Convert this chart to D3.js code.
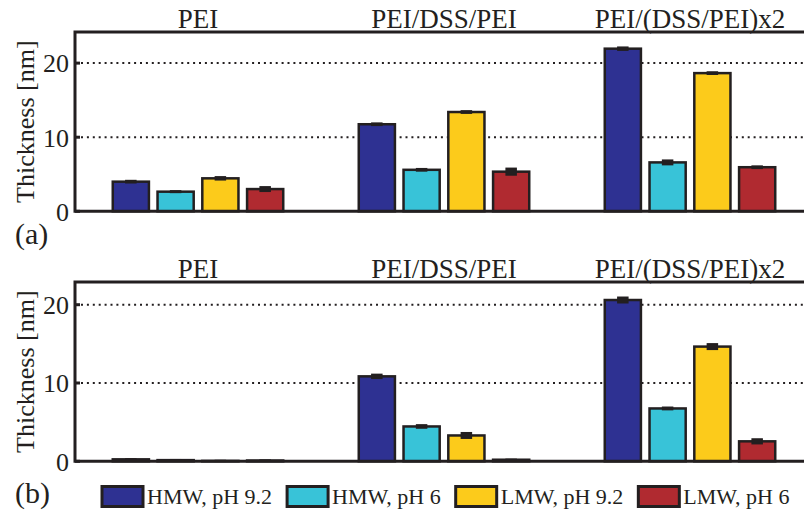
<!DOCTYPE html>
<html>
    <head>
        <meta charset="utf-8">
        <title>Thickness</title>
        <style>
body {
    margin: 0;
    background-color: white;
    font-family: 'Liberation Serif', 'Times New Roman', serif;
}

svg {
    display: block;
    background-color: white;
}

.bar {
    stroke: #231f20;
    stroke-width: 2.5;
}

.err {
    fill: #231f20;
    stroke: #231f20;
    stroke-width: 1.5;
}

.grid {
    stroke: #231f20;
    stroke-width: 2;
    stroke-dasharray: 2, 3.9;
}

.frame {
    stroke: #231f20;
    stroke-width: 3;
    fill: none;
}

.tick-label, .ylabel {
    font-size: 26px;
    fill: #231f20;
}

.panel-label {
    font-size: 30px;
    fill: #231f20;
}

.title {
    font-size: 27px;
    fill: #231f20;
}

.legend-text {
    font-size: 22px;
    fill: #231f20;
}
        </style>
        <script src="https://cdn.jsdelivr.net/npm/d3@7"></script>
    </head>
    <body>
        <script>
var width = 804,
    height = 518;

var groups = ["PEI", "PEI/DSS/PEI", "PEI/(DSS/PEI)x2"];
var series = ["HMW, pH 9.2", "HMW, pH 6", "LMW, pH 9.2", "LMW, pH 6"];
var colors = ["#2e3192", "#38c3d8", "#fccb1b", "#b02a30"];
var yTicks = [0, 10, 20];

// panel (a): rows are series, columns are groups
var valuesA = [
    [4.0, 11.75, 21.95],
    [2.65, 5.6, 6.6],
    [4.45, 13.4, 18.65],
    [3.0, 5.35, 5.95]
];
var errorsA = [
    [0.15, 0.15, 0.2],
    [0.1, 0.15, 0.3],
    [0.2, 0.15, 0.15],
    [0.3, 0.45, 0.15]
];

// panel (b)
var valuesB = [
    [0.25, 10.85, 20.6],
    [0.15, 4.45, 6.75],
    [0.05, 3.3, 14.65],
    [0.1, 0.2, 2.55]
];
var errorsB = [
    [0.05, 0.25, 0.35],
    [0.05, 0.2, 0.15],
    [0.05, 0.35, 0.35],
    [0.05, 0.05, 0.3]
];

var svg = d3.select("body")
    .append("svg")
    .attr("width", width)
    .attr("height", height);

var x = d3.scaleLinear()
    .domain([0.5, 3.5])
    .range([75, 813]);

var barStep = 0.182,
    barWidth = 0.147;

var drawPanel = function (values, errors, top, bottom, yMax, label, labelY) {
    var y = d3.scaleLinear()
        .domain([0, yMax])
        .range([bottom, top]);

    var g = svg.append("g");

    // dotted grid
    g.selectAll(".grid")
        .data(yTicks.filter(function (d) { return d > 0; }))
        .enter().append("line")
        .attr("class", "grid")
        .attr("x1", x(0.5) + 6)
        .attr("x2", width)
        .attr("y1", function (d) { return y(d); })
        .attr("y2", function (d) { return y(d); });

    // bars
    var rows = [];
    values.forEach(function (row, s) {
        row.forEach(function (v, k) {
            rows.push({ s: s, k: k, v: v, e: errors[s][k] });
        });
    });

    var cx = function (d) { return x(d.k + 1 + (d.s - 1.5) * barStep); };
    var halfW = (x(barWidth) - x(0)) / 2;

    g.selectAll(".bar")
        .data(rows)
        .enter().append("rect")
        .attr("class", "bar")
        .attr("x", function (d) { return cx(d) - halfW; })
        .attr("width", halfW * 2)
        .attr("y", function (d) { return y(d.v); })
        .attr("height", function (d) { return y(0) - y(d.v); })
        .attr("fill", function (d) { return colors[d.s]; });

    g.selectAll(".err")
        .data(rows)
        .enter().append("rect")
        .attr("class", "err")
        .attr("x", function (d) { return cx(d) - 5; })
        .attr("width", 10)
        .attr("y", function (d) { return y(d.v + d.e); })
        .attr("height", function (d) { return y(d.v - d.e) - y(d.v + d.e); });

    // frame: left, top and baseline
    g.append("path")
        .attr("class", "frame")
        .attr("d", "M" + width + "," + top + "H" + x(0.5) + "V" + bottom + "H" + width);

    g.selectAll(".tick")
        .data(yTicks)
        .enter().append("line")
        .attr("class", "frame")
        .attr("x1", x(0.5))
        .attr("x2", x(0.5) + 5)
        .attr("y1", function (d) { return y(d); })
        .attr("y2", function (d) { return y(d); });

    g.selectAll(".tick-label")
        .data(yTicks)
        .enter().append("text")
        .attr("class", "tick-label")
        .attr("x", 69)
        .attr("y", function (d) { return y(d); })
        .attr("dy", "0.36em")
        .attr("text-anchor", "end")
        .text(function (d) { return d; });

    g.selectAll(".title")
        .data(groups)
        .enter().append("text")
        .attr("class", "title")
        .attr("x", function (d, i) { return x(i + 1); })
        .attr("y", top - 4)
        .attr("text-anchor", "middle")
        .text(function (d) { return d; });

    g.append("text")
        .attr("class", "ylabel")
        .attr("transform", "translate(34," + ((top + bottom) / 2) + ") rotate(-90)")
        .attr("text-anchor", "middle")
        .text("Thickness [nm]");

    g.append("text")
        .attr("class", "panel-label")
        .attr("x", 15)
        .attr("y", labelY)
        .text(label);
};

drawPanel(valuesA, errorsA, 32, 211.3, 24.2, "(a)", 244);
drawPanel(valuesB, errorsB, 282, 461.3, 22.9, "(b)", 503);

// legend
var legend = svg.append("g");
var lx = 102;
series.forEach(function (name, i) {
    legend.append("rect")
        .attr("class", "frame")
        .attr("x", lx)
        .attr("y", 486.5)
        .attr("width", 41)
        .attr("height", 20)
        .style("fill", colors[i]);
    var t = legend.append("text")
        .attr("class", "legend-text")
        .attr("x", lx + 45)
        .attr("y", 504)
        .text(name);
    lx += 45 + t.node().getComputedTextLength() + 15;
});
        </script>
    </body>
</html>
